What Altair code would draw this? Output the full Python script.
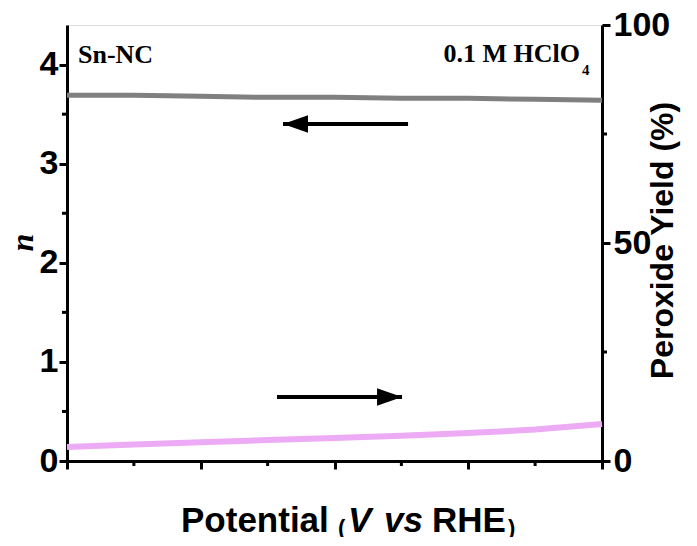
import altair as alt
import pandas as pd

# ---- data ----
potential = [0.1, 0.2, 0.3, 0.4, 0.5, 0.6, 0.7, 0.8, 0.9]
n_values = [3.69, 3.69, 3.68, 3.67, 3.67, 3.66, 3.66, 3.65, 3.64]
peroxide = [3.2, 3.8, 4.3, 4.8, 5.3, 5.8, 6.4, 7.2, 8.5]

x_major = [0.1, 0.3, 0.5, 0.7, 0.9]
x_minor = [0.2, 0.4, 0.6, 0.8]
n_major = [0, 1, 2, 3, 4]
n_minor = [0.5, 1.5, 2.5, 3.5]
pct_major = [0, 50, 100]
pct_minor = [25, 75]

# arrows (data coords, n axis)
arrow_tail = [0.610, 0.414]
arrow_tip = [0.423, 0.601]
arrow_n = [3.40, 0.646]
arrow_dir = ["left", "right"]

W, H = 535, 436
SANS = "Liberation Sans"
SERIF = "Liberation Serif"

x_scale = alt.Scale(domain=[0.1, 0.9], nice=False, zero=False)
n_scale = alt.Scale(domain=[0, 4.4], nice=False)
pct_scale = alt.Scale(domain=[0, 100], nice=False)

common_axis = dict(
    grid=False, domainColor="black", domainWidth=3, tickColor="black",
    tickWidth=3, tickSize=8, labelFont=SANS, labelFontWeight="bold",
    labelFontSize=34, labelColor="black",
)

x_axis = alt.Axis(values=x_major, labels=False, title="", **common_axis)
n_axis = alt.Axis(
    values=n_major, labelPadding=1, title="n", titleFont=SERIF,
    titleFontStyle="italic", titleFontWeight="bold", titleFontSize=32,
    titleColor="black", titleAngle=270, titleX=-45, titleY=217,
    titleAlign="center", titleBaseline="middle", **common_axis,
)
pct_axis = alt.Axis(
    values=pct_major, orient="right", labelPadding=3,
    title="Peroxide Yield (%)", titleFont=SANS, titleFontWeight="bold",
    titleFontSize=32, titleColor="black", titleAngle=270, titleX=60,
    titleY=215, titleAlign="center", titleBaseline="middle", **common_axis,
)

df = pd.DataFrame({"potential": potential, "n": n_values, "peroxide": peroxide})
arrows = pd.DataFrame({"tail": arrow_tail, "tip": arrow_tip, "n": arrow_n, "dir": arrow_dir})

X = alt.X("potential:Q", scale=x_scale, axis=x_axis)

gray_line = alt.Chart(df).mark_line(color="#808080", strokeWidth=5).encode(
    x=X, y=alt.Y("n:Q", scale=n_scale, axis=n_axis)
)

shafts = alt.Chart(arrows).mark_rule(color="black", strokeWidth=4).encode(
    x=alt.X("tail:Q", scale=x_scale, axis=x_axis),
    x2="tip:Q",
    y=alt.Y("n:Q", scale=n_scale, axis=n_axis),
)
head_left = alt.Chart(arrows[arrows["dir"] == "left"]).mark_point(
    shape="M0,0 L2,-0.7 L2,0.7 Z", filled=True, color="black", opacity=1, size=625
).encode(x=alt.X("tip:Q", scale=x_scale, axis=x_axis), y=alt.Y("n:Q", scale=n_scale, axis=n_axis))
head_right = alt.Chart(arrows[arrows["dir"] == "right"]).mark_point(
    shape="M0,0 L-2,-0.7 L-2,0.7 Z", filled=True, color="black", opacity=1, size=625
).encode(x=alt.X("tip:Q", scale=x_scale, axis=x_axis), y=alt.Y("n:Q", scale=n_scale, axis=n_axis))

x_minor_ticks = alt.Chart(pd.DataFrame({"v": x_minor})).mark_rule(color="black", strokeWidth=3).encode(
    x=alt.X("v:Q", scale=x_scale, axis=x_axis), y=alt.value(H), y2=alt.value(H + 5)
)
n_minor_ticks = alt.Chart(pd.DataFrame({"v": n_minor})).mark_rule(color="black", strokeWidth=3).encode(
    y=alt.Y("v:Q", scale=n_scale, axis=n_axis), x=alt.value(-5), x2=alt.value(0)
)

def label(text, x, y, font, size, style="normal", align="left"):
    return alt.Chart(pd.DataFrame({"t": [text]})).mark_text(
        font=font, fontSize=size, fontWeight="bold", fontStyle=style,
        align=align, baseline="alphabetic", color="black",
    ).encode(x=alt.value(x), y=alt.value(y), text="t:N")

texts = [
    label("Sn-NC", 11, 38, SERIF, 26),
    label("0.1 M HClO", 513, 37, SERIF, 26, align="right"),
    label("4", 515, 50, SERIF, 15),
    label("Potential", 114, 507, SANS, 35),
    label("(", 271, 510, SANS, 22),
    label("V", 281, 507, SANS, 35, "italic"),
    label("vs", 317, 507, SANS, 35, "italic"),
    label("RHE", 365, 507, SANS, 35),
    label(")", 441, 510, SANS, 22),
]

left = alt.layer(x_minor_ticks, n_minor_ticks, gray_line, shafts, head_left, head_right, *texts)

pink_line = alt.Chart(df).mark_line(color="#EDAAF5", strokeWidth=6).encode(
    x=X, y=alt.Y("peroxide:Q", scale=pct_scale, axis=pct_axis)
)
pct_minor_ticks = alt.Chart(pd.DataFrame({"v": pct_minor})).mark_rule(color="black", strokeWidth=3).encode(
    y=alt.Y("v:Q", scale=pct_scale, axis=pct_axis), x=alt.value(W), x2=alt.value(W + 5)
)
right = alt.layer(pink_line, pct_minor_ticks)

chart = alt.layer(left, right).resolve_scale(y="independent").properties(
    width=W, height=H,
    autosize=alt.AutoSizeParams(type="none"),
    padding={"left": 59, "top": 17, "right": 80, "bottom": 76},
).configure_view(stroke="black", strokeWidth=3).configure(background="white")

chart.save("out.html", embed_options={"renderer": "svg", "actions": False})
